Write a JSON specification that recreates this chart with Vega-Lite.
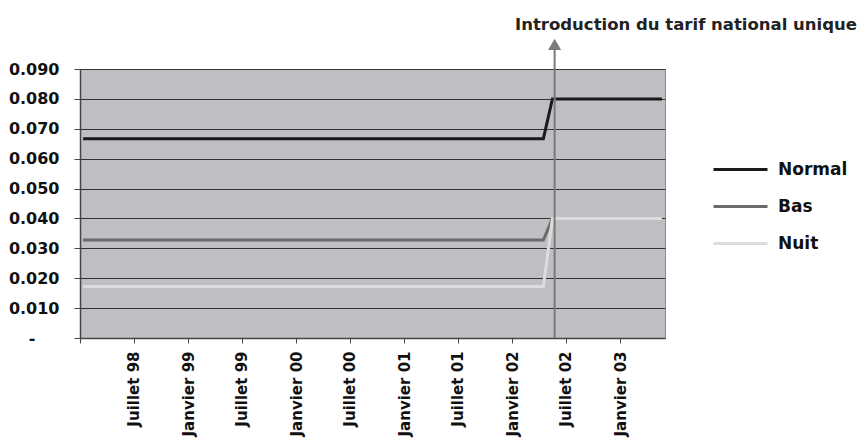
{
  "$schema": "https://vega.github.io/schema/vega-lite/v6.json",
  "width": 585,
  "height": 269,
  "autosize": {"type": "none"},
  "padding": {"left": 80, "top": 69, "right": 199, "bottom": 101},
  "background": "white",
  "title": {
    "text": "Introduction du tarif national unique",
    "anchor": "end",
    "frame": "group",
    "dx": 192,
    "offset": 5,
    "font": "DejaVu Sans",
    "fontSize": 16.5,
    "fontWeight": "bold",
    "color": "#222222"
  },
  "config": {
    "view": {"fill": "#bebfc3", "stroke": "#8a8a8a", "strokeWidth": 1},
    "font": "DejaVu Sans"
  },
  "datasets": {
    "tarifs": [
      {"mois": "1998-01", "Normal": 0.0667, "Bas": 0.0328, "Nuit": 0.0172},
      {"mois": "1998-02", "Normal": 0.0667, "Bas": 0.0328, "Nuit": 0.0172},
      {"mois": "1998-03", "Normal": 0.0667, "Bas": 0.0328, "Nuit": 0.0172},
      {"mois": "1998-04", "Normal": 0.0667, "Bas": 0.0328, "Nuit": 0.0172},
      {"mois": "1998-05", "Normal": 0.0667, "Bas": 0.0328, "Nuit": 0.0172},
      {"mois": "1998-06", "Normal": 0.0667, "Bas": 0.0328, "Nuit": 0.0172},
      {"mois": "1998-07", "Normal": 0.0667, "Bas": 0.0328, "Nuit": 0.0172},
      {"mois": "1998-08", "Normal": 0.0667, "Bas": 0.0328, "Nuit": 0.0172},
      {"mois": "1998-09", "Normal": 0.0667, "Bas": 0.0328, "Nuit": 0.0172},
      {"mois": "1998-10", "Normal": 0.0667, "Bas": 0.0328, "Nuit": 0.0172},
      {"mois": "1998-11", "Normal": 0.0667, "Bas": 0.0328, "Nuit": 0.0172},
      {"mois": "1998-12", "Normal": 0.0667, "Bas": 0.0328, "Nuit": 0.0172},
      {"mois": "1999-01", "Normal": 0.0667, "Bas": 0.0328, "Nuit": 0.0172},
      {"mois": "1999-02", "Normal": 0.0667, "Bas": 0.0328, "Nuit": 0.0172},
      {"mois": "1999-03", "Normal": 0.0667, "Bas": 0.0328, "Nuit": 0.0172},
      {"mois": "1999-04", "Normal": 0.0667, "Bas": 0.0328, "Nuit": 0.0172},
      {"mois": "1999-05", "Normal": 0.0667, "Bas": 0.0328, "Nuit": 0.0172},
      {"mois": "1999-06", "Normal": 0.0667, "Bas": 0.0328, "Nuit": 0.0172},
      {"mois": "1999-07", "Normal": 0.0667, "Bas": 0.0328, "Nuit": 0.0172},
      {"mois": "1999-08", "Normal": 0.0667, "Bas": 0.0328, "Nuit": 0.0172},
      {"mois": "1999-09", "Normal": 0.0667, "Bas": 0.0328, "Nuit": 0.0172},
      {"mois": "1999-10", "Normal": 0.0667, "Bas": 0.0328, "Nuit": 0.0172},
      {"mois": "1999-11", "Normal": 0.0667, "Bas": 0.0328, "Nuit": 0.0172},
      {"mois": "1999-12", "Normal": 0.0667, "Bas": 0.0328, "Nuit": 0.0172},
      {"mois": "2000-01", "Normal": 0.0667, "Bas": 0.0328, "Nuit": 0.0172},
      {"mois": "2000-02", "Normal": 0.0667, "Bas": 0.0328, "Nuit": 0.0172},
      {"mois": "2000-03", "Normal": 0.0667, "Bas": 0.0328, "Nuit": 0.0172},
      {"mois": "2000-04", "Normal": 0.0667, "Bas": 0.0328, "Nuit": 0.0172},
      {"mois": "2000-05", "Normal": 0.0667, "Bas": 0.0328, "Nuit": 0.0172},
      {"mois": "2000-06", "Normal": 0.0667, "Bas": 0.0328, "Nuit": 0.0172},
      {"mois": "2000-07", "Normal": 0.0667, "Bas": 0.0328, "Nuit": 0.0172},
      {"mois": "2000-08", "Normal": 0.0667, "Bas": 0.0328, "Nuit": 0.0172},
      {"mois": "2000-09", "Normal": 0.0667, "Bas": 0.0328, "Nuit": 0.0172},
      {"mois": "2000-10", "Normal": 0.0667, "Bas": 0.0328, "Nuit": 0.0172},
      {"mois": "2000-11", "Normal": 0.0667, "Bas": 0.0328, "Nuit": 0.0172},
      {"mois": "2000-12", "Normal": 0.0667, "Bas": 0.0328, "Nuit": 0.0172},
      {"mois": "2001-01", "Normal": 0.0667, "Bas": 0.0328, "Nuit": 0.0172},
      {"mois": "2001-02", "Normal": 0.0667, "Bas": 0.0328, "Nuit": 0.0172},
      {"mois": "2001-03", "Normal": 0.0667, "Bas": 0.0328, "Nuit": 0.0172},
      {"mois": "2001-04", "Normal": 0.0667, "Bas": 0.0328, "Nuit": 0.0172},
      {"mois": "2001-05", "Normal": 0.0667, "Bas": 0.0328, "Nuit": 0.0172},
      {"mois": "2001-06", "Normal": 0.0667, "Bas": 0.0328, "Nuit": 0.0172},
      {"mois": "2001-07", "Normal": 0.0667, "Bas": 0.0328, "Nuit": 0.0172},
      {"mois": "2001-08", "Normal": 0.0667, "Bas": 0.0328, "Nuit": 0.0172},
      {"mois": "2001-09", "Normal": 0.0667, "Bas": 0.0328, "Nuit": 0.0172},
      {"mois": "2001-10", "Normal": 0.0667, "Bas": 0.0328, "Nuit": 0.0172},
      {"mois": "2001-11", "Normal": 0.0667, "Bas": 0.0328, "Nuit": 0.0172},
      {"mois": "2001-12", "Normal": 0.0667, "Bas": 0.0328, "Nuit": 0.0172},
      {"mois": "2002-01", "Normal": 0.0667, "Bas": 0.0328, "Nuit": 0.0172},
      {"mois": "2002-02", "Normal": 0.0667, "Bas": 0.0328, "Nuit": 0.0172},
      {"mois": "2002-03", "Normal": 0.0667, "Bas": 0.0328, "Nuit": 0.0172},
      {"mois": "2002-04", "Normal": 0.0667, "Bas": 0.0328, "Nuit": 0.0172},
      {"mois": "2002-05", "Normal": 0.08, "Bas": 0.04, "Nuit": 0.04},
      {"mois": "2002-06", "Normal": 0.08, "Bas": 0.04, "Nuit": 0.04},
      {"mois": "2002-07", "Normal": 0.08, "Bas": 0.04, "Nuit": 0.04},
      {"mois": "2002-08", "Normal": 0.08, "Bas": 0.04, "Nuit": 0.04},
      {"mois": "2002-09", "Normal": 0.08, "Bas": 0.04, "Nuit": 0.04},
      {"mois": "2002-10", "Normal": 0.08, "Bas": 0.04, "Nuit": 0.04},
      {"mois": "2002-11", "Normal": 0.08, "Bas": 0.04, "Nuit": 0.04},
      {"mois": "2002-12", "Normal": 0.08, "Bas": 0.04, "Nuit": 0.04},
      {"mois": "2003-01", "Normal": 0.08, "Bas": 0.04, "Nuit": 0.04},
      {"mois": "2003-02", "Normal": 0.08, "Bas": 0.04, "Nuit": 0.04},
      {"mois": "2003-03", "Normal": 0.08, "Bas": 0.04, "Nuit": 0.04},
      {"mois": "2003-04", "Normal": 0.08, "Bas": 0.04, "Nuit": 0.04},
      {"mois": "2003-05", "Normal": 0.08, "Bas": 0.04, "Nuit": 0.04}
    ],
    "evenement": [
      {"date": "2002-05-24", "bas": 0, "haut": 0.0975, "pointe": 0.0982}
    ]
  },
  "layer": [
    {
      "data": {"name": "tarifs"},
      "transform": [{"fold": ["Normal", "Bas", "Nuit"], "as": ["serie", "prix"]}],
      "mark": {"type": "line", "strokeWidth": 3, "strokeCap": "square", "clip": false},
      "encoding": {
        "x": {
          "field": "mois",
          "timeUnit": "utcyearmonth",
          "type": "temporal",
          "bandPosition": 0.5,
          "scale": {
            "domain": [
              {"year": 1998, "month": 1, "date": 1, "utc": true},
              {"year": 2003, "month": 6, "date": 1, "utc": true}
            ]
          },
          "axis": {
            "title": null,
            "grid": false,
            "tickCount": {"interval": "month", "step": 6},
            "labelExpr": "utcyear(datum.value) == 1998 && utcmonth(datum.value) == 0 ? '' : (utcmonth(datum.value) == 0 ? 'Janvier ' : 'Juillet ') + utcFormat(datum.value, '%y')",
            "labelAngle": -90,
            "labelAlign": "right",
            "labelBaseline": "middle",
            "labelFont": "DejaVu Sans",
            "labelFontSize": 15,
            "labelFontWeight": "bold",
            "labelColor": "#111111",
            "labelPadding": 8,
            "labelOverlap": false,
            "labelFlush": false,
            "tickSize": 5,
            "tickColor": "#444444",
            "domainColor": "#444444",
            "domainWidth": 1.5
          }
        },
        "y": {
          "field": "prix",
          "type": "quantitative",
          "scale": {"domain": [0, 0.09], "nice": false},
          "axis": {
            "title": null,
            "values": [0, 0.01, 0.02, 0.03, 0.04, 0.05, 0.06, 0.07, 0.08, 0.09],
            "tickCount": 20,
            "labelExpr": "datum.value == 0 ? '-' : format(datum.value, '.3f')",
            "labelFont": "DejaVu Sans",
            "labelFontSize": 16,
            "labelFontWeight": "bold",
            "labelColor": "#111111",
            "labelPadding": {"condition": {"test": "datum.value == 0", "value": 39}, "value": 15},
            "labelOverlap": false,
            "labelFlush": false,
            "tickSize": 6,
            "tickColor": "#444444",
            "domainColor": "#444444",
            "domainWidth": 1.5,
            "grid": true,
            "gridColor": "#333333",
            "gridWidth": 1
          }
        },
        "color": {
          "field": "serie",
          "type": "nominal",
          "scale": {"domain": ["Normal", "Bas", "Nuit"], "range": ["#1a1a1a", "#6b6b6b", "#dcdcdc"]},
          "legend": {
            "title": null,
            "orient": "none",
            "legendX": 632,
            "legendY": 72,
            "padding": 0,
            "symbolType": "stroke",
            "symbolSize": 2916,
            "symbolStrokeWidth": 3,
            "labelFont": "DejaVu Sans",
            "labelFontSize": 17,
            "labelFontWeight": "bold",
            "labelColor": "#111111",
            "labelOffset": 9,
            "rowPadding": -18
          }
        }
      }
    },
    {
      "data": {"name": "evenement"},
      "mark": {"type": "rule", "color": "#7a7a7a", "strokeWidth": 2, "clip": false},
      "encoding": {
        "x": {"field": "date", "timeUnit": "utcyearmonthdate", "type": "temporal"},
        "y": {"field": "bas", "type": "quantitative"},
        "y2": {"field": "haut"}
      }
    },
    {
      "data": {"name": "evenement"},
      "mark": {"type": "point", "shape": "triangle-up", "filled": true, "size": 169, "color": "#7a7a7a", "opacity": 1, "clip": false},
      "encoding": {
        "x": {"field": "date", "timeUnit": "utcyearmonthdate", "type": "temporal"},
        "y": {"field": "pointe", "type": "quantitative"}
      }
    }
  ]
}
